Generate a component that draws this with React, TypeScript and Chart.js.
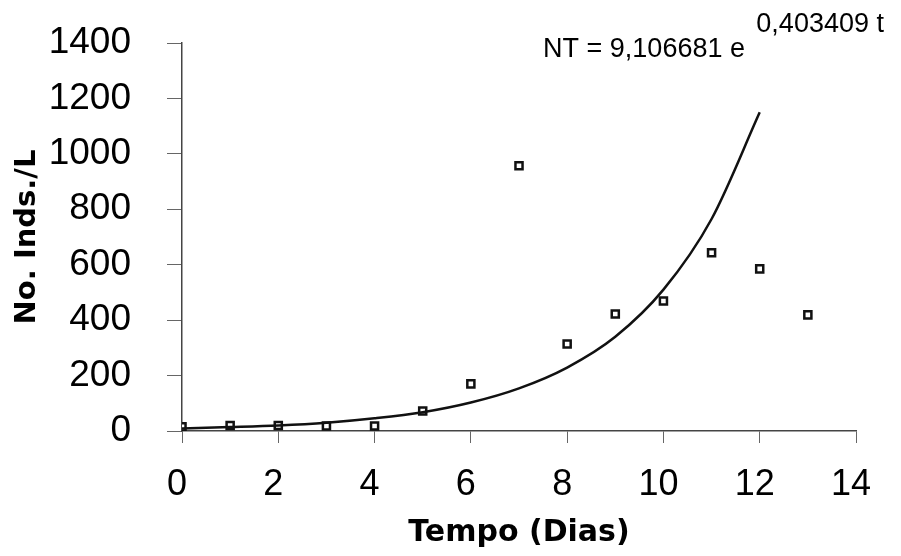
import React, { useEffect, useRef } from "react";
import { Chart, registerables } from "chart.js";

Chart.register(...registerables);

// Observed data (Tempo in days, No. Inds./L)
const obsDays = [0, 1, 2, 3, 4, 5, 6, 7, 8, 9, 10, 11, 12, 13];
const obsCounts = [15, 20, 20, 18, 18, 72, 170, 957, 314, 422, 469, 643, 585, 419];

// Fitted exponential curve at whole days
const fitDays = [0, 1, 2, 3, 4, 5, 6, 7, 8, 9, 10, 11, 12];
const fitCounts = [9, 14, 20, 30, 46, 68, 103, 154, 229, 340, 510, 765, 1150];

const xTicks = [0, 2, 4, 6, 8, 10, 12, 14];
const yTicks = [0, 200, 400, 600, 800, 1000, 1200, 1400];

const equationMain = "NT = 9,106681 e";
const equationExp = "0,403409 t";
const xTitle = "Tempo (Dias)";
const yTitle = "No. Inds./L";

const equationPlugin = {
  id: "equationText",
  afterDraw(chart: any) {
    const { ctx, scales } = chart;
    const x = scales.x;
    const y = scales.y;
    ctx.save();
    ctx.fillStyle = "#000";
    ctx.font = "27px 'Liberation Sans', Arial, sans-serif";
    ctx.textAlign = "left";
    ctx.textBaseline = "alphabetic";
    ctx.fillText(equationMain, x.getPixelForValue(7.5), y.getPixelForValue(1350));
    ctx.fillText(equationExp, x.getPixelForValue(11.93), y.getPixelForValue(1440));
    ctx.restore();
  },
};

export default function App() {
  const ref = useRef<HTMLCanvasElement | null>(null);

  useEffect(() => {
    document.body.style.margin = "0";
    const canvas = ref.current;
    if (!canvas) return;
    const chart = new Chart(canvas, {
      type: "scatter",
      data: {
        datasets: [
          {
            label: "fit",
            data: fitDays.map((d, i) => ({ x: d, y: fitCounts[i] })),
            showLine: true,
            borderColor: "#111",
            borderWidth: 2.5,
            pointRadius: 0,
            cubicInterpolationMode: "monotone",
            fill: false,
          },
          {
            label: "obs",
            data: obsDays.map((d, i) => ({ x: d, y: obsCounts[i] })),
            showLine: false,
            pointStyle: "rect",
            pointRadius: 5,
            pointBorderWidth: 2.5,
            pointBorderColor: "#111",
            pointBackgroundColor: "#fff",
          },
        ],
      },
      options: {
        responsive: false,
        animation: false,
        layout: { padding: { top: 43, right: 45, bottom: 0, left: 0 } },
        plugins: {
          legend: { display: false },
          tooltip: { enabled: false },
        },
        scales: {
          x: {
            type: "linear",
            min: 0,
            max: 14,
            afterFit: (s: any) => {
              s.height = 125;
              s.paddingLeft = 0;
              s.paddingRight = 0;
            },
            afterBuildTicks: (s: any) => {
              s.ticks = xTicks.map((v) => ({ value: v }));
            },
            border: { display: true, color: "#444", width: 1.5 },
            grid: {
              display: true,
              drawOnChartArea: false,
              drawTicks: true,
              tickLength: 12,
              color: "#666",
            },
            ticks: {
              color: "#000",
              padding: 20,
              labelOffset: -5,
              callback: (v: any) => String(v),
              font: { family: "'Liberation Sans', Arial, sans-serif", size: 36 },
            },
            title: {
              display: true,
              text: xTitle,
              color: "#000",
              padding: { top: 0, bottom: 5 },
              font: { family: "'DejaVu Sans', sans-serif", size: 30, weight: "bold" },
            },
          },
          y: {
            type: "linear",
            min: 0,
            max: 1400,
            afterFit: (s: any) => {
              s.width = 182;
              s.paddingTop = 0;
              s.paddingBottom = 0;
            },
            afterBuildTicks: (s: any) => {
              s.ticks = yTicks.map((v) => ({ value: v }));
            },
            border: { display: true, color: "#444", width: 1.5 },
            grid: {
              display: true,
              drawOnChartArea: false,
              drawTicks: true,
              tickLength: 15,
              color: "#666",
            },
            ticks: {
              color: "#000",
              padding: 36,
              callback: (v: any) => String(v),
              font: { family: "'Liberation Sans', Arial, sans-serif", size: 37 },
            },
            title: {
              display: true,
              text: yTitle,
              color: "#000",
              padding: { top: 10, bottom: 0 },
              font: { family: "'DejaVu Sans', sans-serif", size: 29, weight: "bold" },
            },
          },
        },
      },
      plugins: [equationPlugin],
    } as any);
    return () => chart.destroy();
  }, []);

  return (
    <div style={{ position: "absolute", left: 0, top: 0, width: 901, height: 556, background: "#fff" }}>
      <canvas ref={ref} width={901} height={556} style={{ display: "block" }} />
    </div>
  );
}
